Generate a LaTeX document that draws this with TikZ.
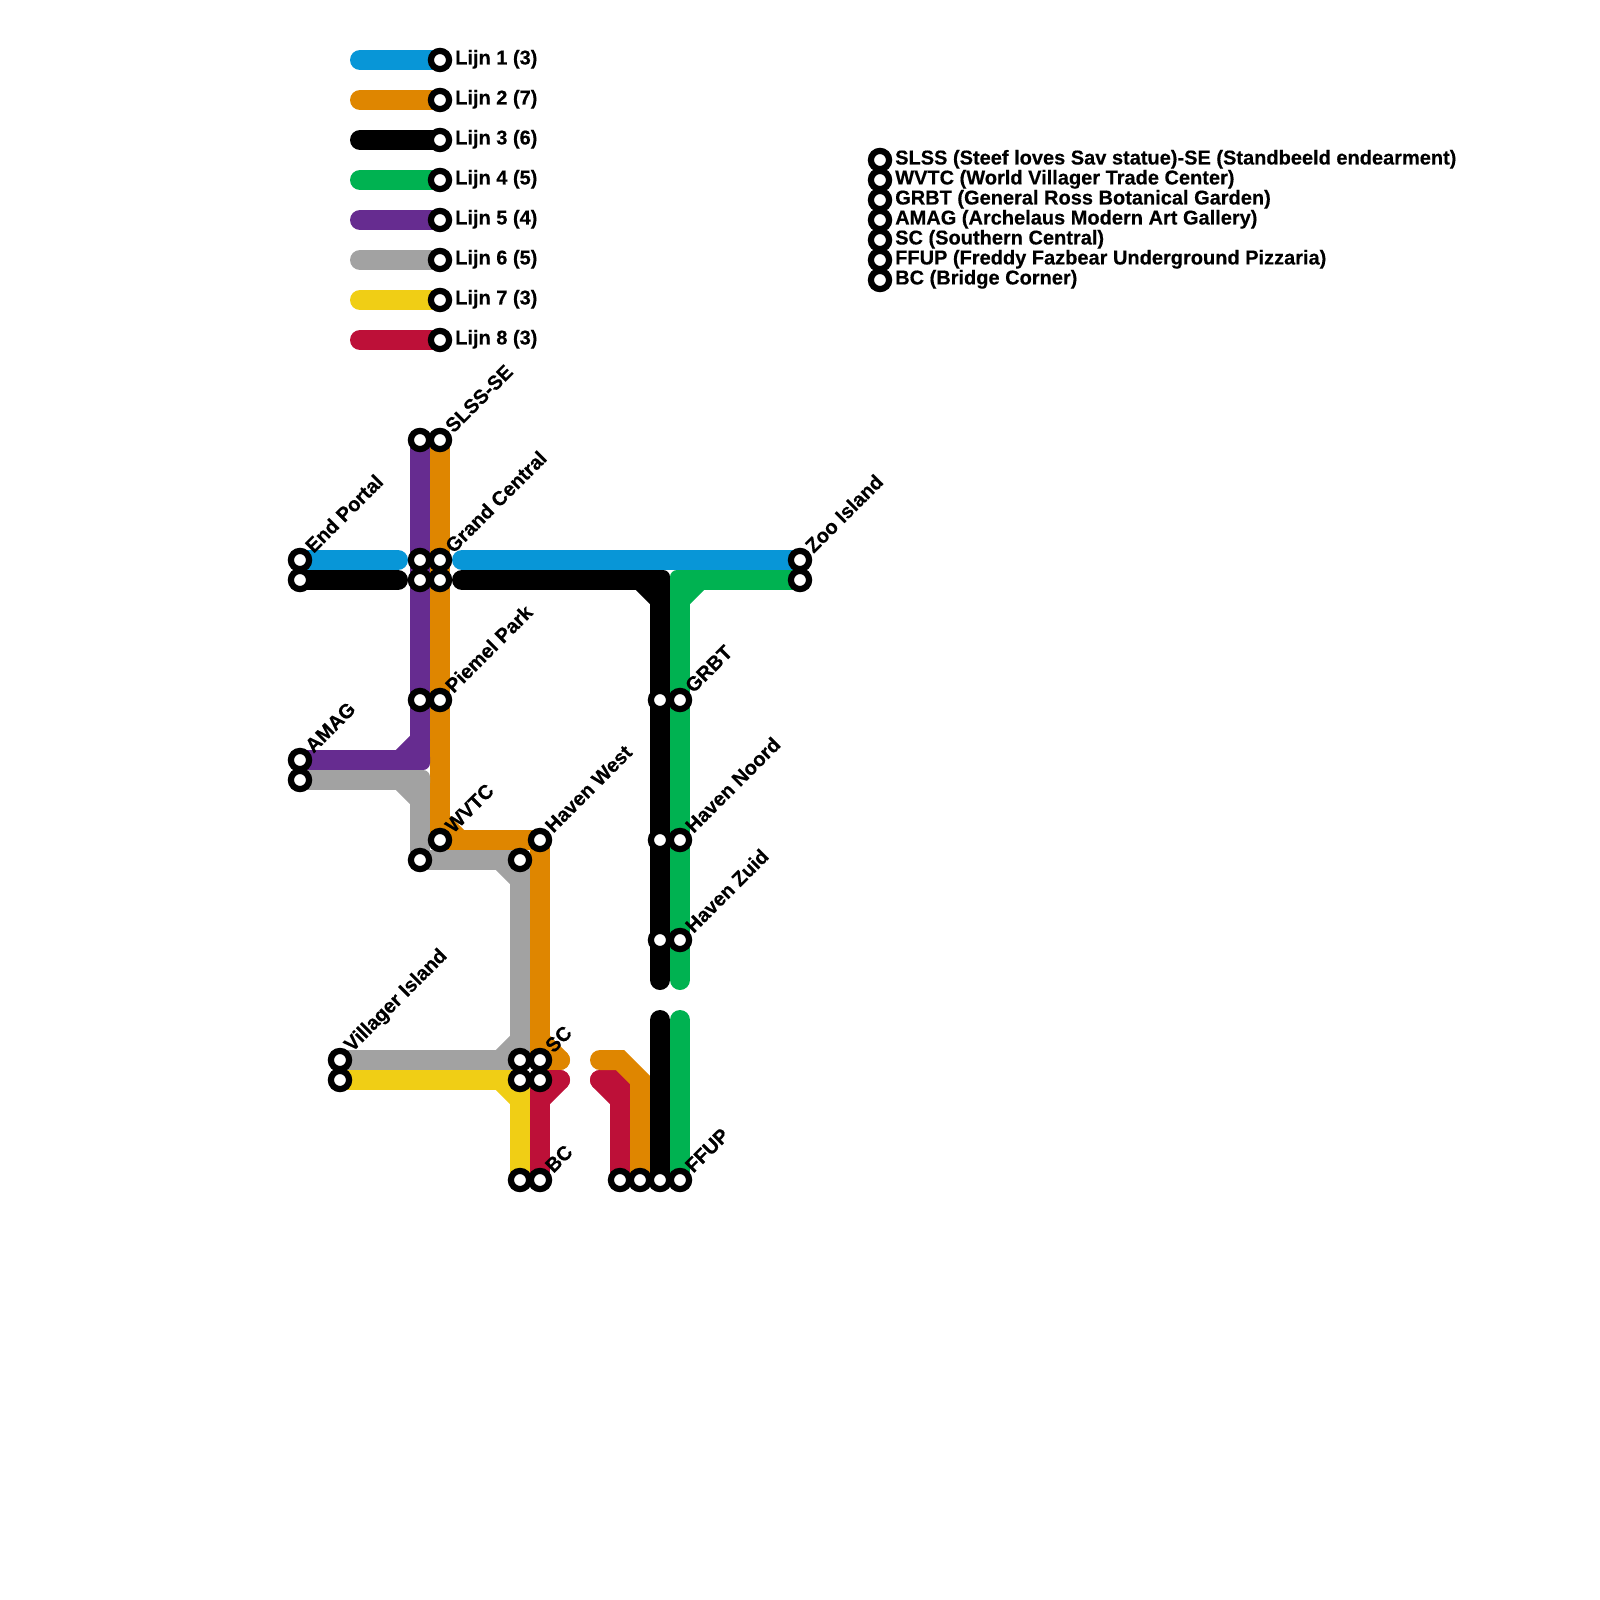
\documentclass[tikz,border=0pt]{standalone}
\usepackage{fontspec}
\setmainfont[BoldFeatures={FakeBold=0.4}]{Liberation Sans}
\usetikzlibrary{backgrounds}
\definecolor{lA}{HTML}{0896D7}
\definecolor{lB}{HTML}{DF8600}
\definecolor{lC}{HTML}{000000}
\definecolor{lD}{HTML}{00B251}
\definecolor{lE}{HTML}{662C90}
\definecolor{lF}{HTML}{A2A2A2}
\definecolor{lG}{HTML}{F0CE15}
\definecolor{lH}{HTML}{BD1038}
\tikzset{
  stn/.style={circle,draw=black,fill=white,line width=6.2pt,minimum size=18.2pt,inner sep=0pt,outer sep=0pt},
  mline/.style={line width=20pt,line cap=round,line join=round},
  lbl/.style={font=\bfseries\fontsize{20}{22}\selectfont,text=black,inner sep=0pt,anchor=west},
  slbl/.style={lbl,rotate=45},
}
% rounded outer corner, and the diagonal chord of a bend
\newcommand{\bendat}[6]{%
  \fill[#2,rounded corners=7pt,shift={(#1)}] (-10,-10) rectangle (10,10);
  \draw[mline,#2] ([shift={(#3,#4)}]#1) -- ([shift={(#5,#6)}]#1);}
\begin{document}
\begin{tikzpicture}[x=1pt,y=-1pt]
\useasboundingbox (0,0) rectangle (1600,1600);
% stations
\foreach \i/\yy in {1/60,2/100,3/140,4/180,5/220,6/260,7/300,8/340}
  \node[stn] (leg\i) at (440,\yy) {};
\foreach \n/\xx/\yy in {a/420/440,b/440/440,c/300/560,d/300/580,e/420/560,f/420/580,g/440/560,h/440/580,
  i/420/700,j/440/700,k/300/760,l/300/780,m/440/840,n/420/860,o/540/840,p/520/860,
  q/340/1060,r/340/1080,s/520/1060,t/520/1080,u/540/1060,v/540/1080,w/520/1180,x/540/1180,
  y/620/1180,z/640/1180,aa/660/1180,ab/680/1180,ac/660/700,ad/680/700,ae/660/840,af/680/840,
  ag/660/940,ah/680/940,ai/800/560,aj/800/580}
  \node[stn] (\n) at (\xx,\yy) {};
\foreach \n/\yy in {k1/160,k2/180,k3/200,k4/220,k5/240,k6/260,k7/280}
  \node[stn] (\n) at (880,\yy) {};
% free ends and bends
\coordinate (blueL) at (398,560); \coordinate (blueR) at (462,560);
\coordinate (blackL) at (398,580); \coordinate (blackR) at (462,580);
\coordinate (blackB) at (660,580); \coordinate (blackE) at (660,980); \coordinate (blackS) at (660,1020);
\coordinate (greenB) at (680,580); \coordinate (greenE) at (680,980); \coordinate (greenS) at (680,1020);
\coordinate (purB) at (420,760);
\coordinate (greyA) at (420,780);
\coordinate (yelB) at (520,1080);
\coordinate (oraE) at (560,1060);
\coordinate (oraS) at (600,1060); \coordinate (oraM) at (620,1060); \coordinate (oraN) at (640,1080);
\coordinate (crS) at (600,1080); \coordinate (crB) at (620,1080);
\coordinate (crE) at (560,1080);
\foreach \i in {1,...,8}{
  \coordinate (ls\i) at ([xshift=-80pt]leg\i.center);
}
\begin{scope}[on background layer]
\draw[mline,lA] (ls1) -- (leg1.center);
\draw[mline,lB] (ls2) -- (leg2.center);
\draw[mline,lC] (ls3) -- (leg3.center);
\draw[mline,lD] (ls4) -- (leg4.center);
\draw[mline,lE] (ls5) -- (leg5.center);
\draw[mline,lF] (ls6) -- (leg6.center);
\draw[mline,lG] (ls7) -- (leg7.center);
\draw[mline,lH] (ls8) -- (leg8.center);
% line 1
\draw[mline,lA] (c.center) -- (blueL);
\draw[mline,lA] (blueR) -- (ai.center);
% line 8 (second piece lies under line 2)
\draw[mline,lH] (crS) -- (crB) -- (y.center);
\bendat{crB}{lH}{-20}{0}{0}{20}
% line 2
\draw[mline,lB] (b.center) -- (g.center) -- (h.center) -- (j.center) -- (m.center) -- (o.center) -- (u.center) -- (oraE);
\bendat{m.center}{lB}{0}{-20}{20}{0}
\bendat{u.center}{lB}{0}{-20}{20}{0}
\draw[mline,lB,line join=miter] (oraS) -- (oraM) -- (oraN) -- (z.center);
% line 3
\draw[mline,lC] (d.center) -- (blackL);
\draw[mline,lC] (blackR) -- (blackB) -- (ac.center) -- (ae.center) -- (ag.center) -- (blackE);
\bendat{blackB}{lC}{-20}{0}{0}{20}
\draw[mline,lC] (blackS) -- (aa.center);
% line 4
\draw[mline,lD] (aj.center) -- (greenB) -- (ad.center) -- (af.center) -- (ah.center) -- (greenE);
\bendat{greenB}{lD}{20}{0}{0}{20}
\draw[mline,lD] (greenS) -- (ab.center);
% line 5
\draw[mline,lE] (a.center) -- (e.center) -- (f.center) -- (i.center) -- (purB) -- (k.center);
\bendat{purB}{lE}{0}{-20}{-20}{0}
% line 6
\draw[mline,lF] (l.center) -- (greyA) -- (n.center) -- (p.center) -- (s.center) -- (q.center);
\bendat{greyA}{lF}{-20}{0}{0}{20}
\bendat{p.center}{lF}{-20}{0}{0}{20}
\bendat{s.center}{lF}{0}{-20}{-20}{0}
% line 7
\draw[mline,lG] (r.center) -- (yelB) -- (w.center);
\bendat{yelB}{lG}{-20}{0}{0}{20}
% line 8
\draw[mline,lH] (x.center) -- (v.center) -- (crE);
\bendat{v.center}{lH}{0}{20}{20}{0}
\end{scope}
% legend texts
\node[lbl] (tl1) at (455,59.3) {Lijn 1 (3)};
\node[lbl] (tl2) at (455,99.3) {Lijn 2 (7)};
\node[lbl] (tl3) at (455,139.3) {Lijn 3 (6)};
\node[lbl] (tl4) at (455,179.3) {Lijn 4 (5)};
\node[lbl] (tl5) at (455,219.3) {Lijn 5 (4)};
\node[lbl] (tl6) at (455,259.3) {Lijn 6 (5)};
\node[lbl] (tl7) at (455,299.3) {Lijn 7 (3)};
\node[lbl] (tl8) at (455,339.3) {Lijn 8 (3)};
\node[lbl] (tk1) at (895,159.3) {SLSS (Steef loves Sav statue)-SE (Standbeeld endearment)};
\node[lbl] (tk2) at (895,179.3) {WVTC (World Villager Trade Center)};
\node[lbl] (tk3) at (895,199.3) {GRBT (General Ross Botanical Garden)};
\node[lbl] (tk4) at (895,219.3) {AMAG (Archelaus Modern Art Gallery)};
\node[lbl] (tk5) at (895,239.3) {SC (Southern Central)};
\node[lbl] (tk6) at (895,259.3) {FFUP (Freddy Fazbear Underground Pizzaria)};
\node[lbl] (tk7) at (895,279.3) {BC (Bridge Corner)};
% station names
\node[slbl] (nb) at ([shift={(8.5,-11)}]b.center) {SLSS-SE};
\node[slbl] (nc) at ([shift={(8.5,-11)}]c.center) {End Portal};
\node[slbl] (ng) at ([shift={(8.5,-11)}]g.center) {Grand Central};
\node[slbl] (nj) at ([shift={(8.5,-11)}]j.center) {Piemel Park};
\node[slbl] (nk) at ([shift={(8.5,-11)}]k.center) {AMAG};
\node[slbl] (nm) at ([shift={(8.5,-11)}]m.center) {WVTC};
\node[slbl] (no) at ([shift={(8.5,-11)}]o.center) {Haven West};
\node[slbl] (nq) at ([shift={(8.5,-11)}]q.center) {Villager Island};
\node[slbl] (nu) at ([shift={(8.5,-11)}]u.center) {SC};
\node[slbl] (nx) at ([shift={(8.5,-11)}]x.center) {BC};
\node[slbl] (nab) at ([shift={(8.5,-11)}]ab.center) {FFUP};
\node[slbl] (nad) at ([shift={(8.5,-11)}]ad.center) {GRBT};
\node[slbl] (naf) at ([shift={(8.5,-11)}]af.center) {Haven Noord};
\node[slbl] (nah) at ([shift={(8.5,-11)}]ah.center) {Haven Zuid};
\node[slbl] (nai) at ([shift={(8.5,-11)}]ai.center) {Zoo Island};
\end{tikzpicture}
\end{document}
